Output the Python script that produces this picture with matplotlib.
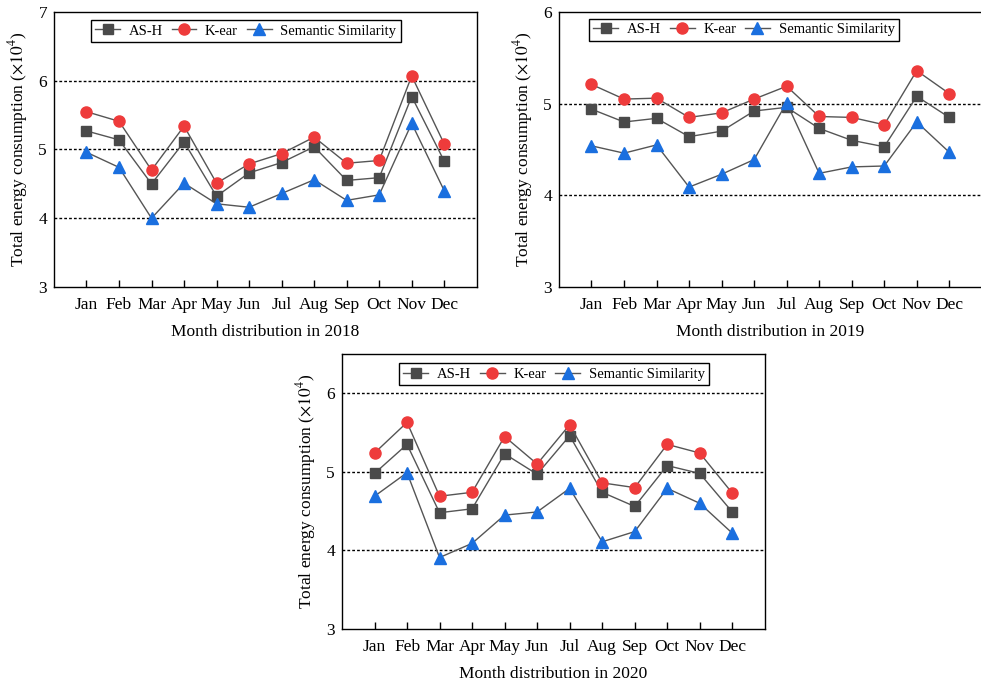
import matplotlib
matplotlib.use('Agg')
import matplotlib.pyplot as plt
import numpy as np

plt.rcParams['font.family'] = ['Liberation Serif', 'DejaVu Serif']
plt.rcParams['mathtext.fontset'] = 'stix'

months = ['Jan', 'Feb', 'Mar', 'Apr', 'May', 'Jun', 'Jul', 'Aug', 'Sep', 'Oct', 'Nov', 'Dec']

# 2018
ash_2018 = [5.27, 5.14, 4.50, 5.11, 4.32, 4.66, 4.81, 5.04, 4.55, 4.59, 5.77, 4.83]
kear_2018 = [5.55, 5.41, 4.70, 5.34, 4.51, 4.79, 4.94, 5.18, 4.80, 4.84, 6.07, 5.08]
sem_2018 = [4.96, 4.74, 4.00, 4.51, 4.21, 4.16, 4.36, 4.56, 4.26, 4.34, 5.38, 4.40]

# 2019
ash_2019 = [4.94, 4.80, 4.84, 4.64, 4.70, 4.92, 4.96, 4.73, 4.60, 4.53, 5.08, 4.85]
kear_2019 = [5.21, 5.05, 5.06, 4.85, 4.90, 5.05, 5.19, 4.86, 4.85, 4.77, 5.36, 5.11]
sem_2019 = [4.54, 4.46, 4.55, 4.09, 4.23, 4.39, 5.01, 4.24, 4.31, 4.32, 4.80, 4.47]

# 2020
ash_2020 = [4.98, 5.35, 4.48, 4.53, 5.23, 4.97, 5.46, 4.74, 4.56, 5.08, 4.98, 4.49]
kear_2020 = [5.24, 5.63, 4.69, 4.74, 5.45, 5.10, 5.60, 4.86, 4.80, 5.35, 5.24, 4.73]
sem_2020 = [4.69, 4.99, 3.91, 4.09, 4.45, 4.49, 4.79, 4.11, 4.24, 4.79, 4.60, 4.22]

fig = plt.figure(figsize=(9.81, 6.82), dpi=100)

panels = [
    # rect, year, data, ylim, yticks, grid levels, legend anchor
    ([0.055, 0.5792, 0.431, 0.4032], '2018', (ash_2018, kear_2018, sem_2018), (3, 7), [3, 4, 5, 6, 7], [4, 5, 6], (0.087, 0.971)),
    ([0.5698, 0.5792, 0.431, 0.4032], '2019', (ash_2019, kear_2019, sem_2019), (3, 6), [3, 4, 5, 6], [4, 5], (0.071, 0.975)),
    ([0.3486, 0.0777, 0.431, 0.4032], '2020', (ash_2020, kear_2020, sem_2020), (3, 6.5), [3, 4, 5, 6], [4, 5, 6], (0.135, 0.967)),
]

x = np.arange(1, 13)
line_c = '#555555'

for rect, year, (ash, kear, sem), ylim, yticks, glev, anchor in panels:
    ax = fig.add_axes(rect)
    for g in glev:
        ax.axhline(g, color='black', lw=1.0, ls=(0, (2, 1.5)), zorder=1)
    ax.plot(x, ash, color=line_c, lw=1.0, marker='s', ms=7.5, mfc='#4a4a4a', mec='#4a4a4a', label='AS-H', zorder=3)
    ax.plot(x, kear, color=line_c, lw=1.0, marker='o', ms=8, mfc='#ee3b3b', mec='#ee3b3b', label='K-ear', zorder=3)
    ax.plot(x, sem, color=line_c, lw=1.0, marker='^', ms=8.5, mfc='#1a6fdf', mec='#1a6fdf', label='Semantic Similarity', zorder=3)
    ax.set_xlim(0, 13)
    ax.set_ylim(*ylim)
    ax.set_xticks(x)
    ax.set_xticklabels(months)
    ax.set_yticks(yticks)
    ax.tick_params(axis='x', direction='in', length=5, width=1, pad=7, labelsize=12.5)
    ax.tick_params(axis='y', length=0, pad=5, labelsize=12.5)
    for s in ax.spines.values():
        s.set_linewidth(1.0)
    ax.set_xlabel('Month distribution in ' + year, fontsize=12.5, labelpad=8)
    ax.set_ylabel(r'Total energy consumption ($\times10^4$)', fontsize=12.5, labelpad=6)
    leg = ax.legend(loc='upper left', bbox_to_anchor=anchor, ncol=3, fontsize=10.5,
                    frameon=True, fancybox=False, framealpha=1, edgecolor='black',
                    handlelength=1.7, handletextpad=0.6, columnspacing=0.6,
                    borderpad=0.3, borderaxespad=0)
    leg.get_frame().set_linewidth(1.0)

fig.savefig('out.png', dpi=100)
